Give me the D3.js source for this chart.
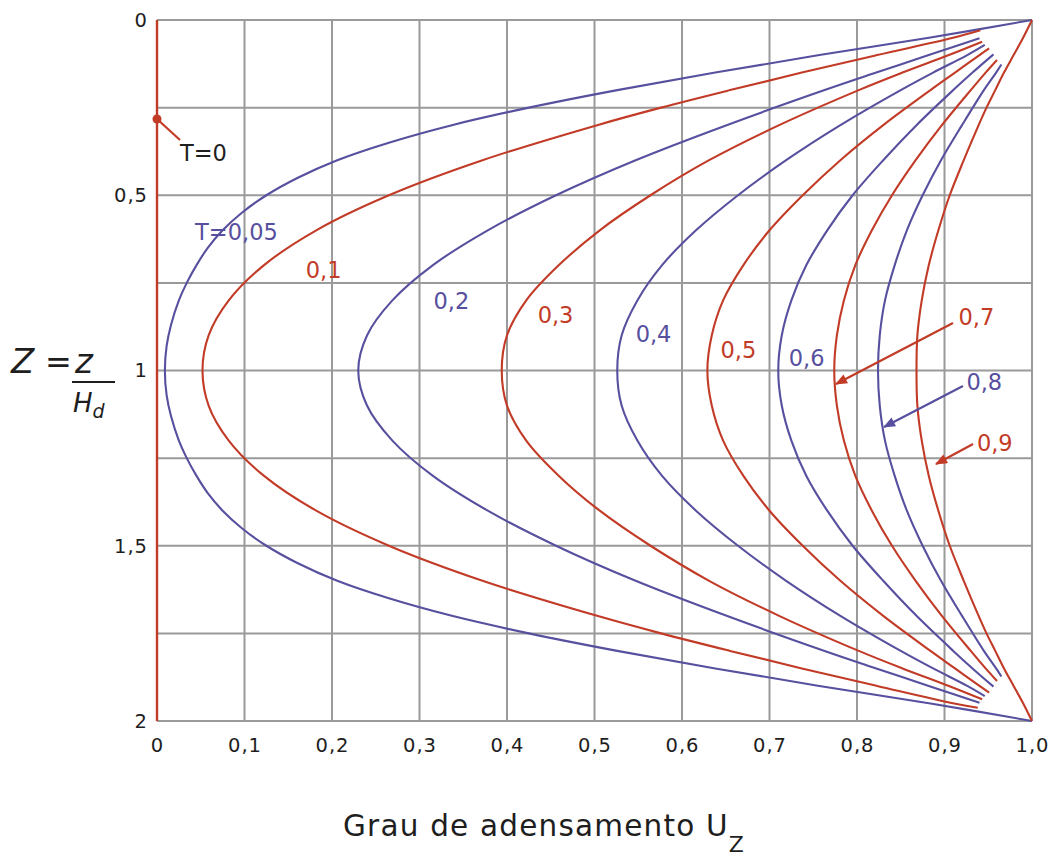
<!DOCTYPE html>
<html>
<head>
<meta charset="utf-8">
<script src="https://cdn.jsdelivr.net/npm/d3@7"></script>
<style>
  html, body { margin: 0; padding: 0; background: #ffffff; }
  svg { display: block; font-family: "DejaVu Sans", Verdana, sans-serif; }
</style>
</head>
<body>
<svg id="chart" width="1053" height="860"></svg>
<script>
// ---- Data (U_z, Z), top (Z=0) to bottom (Z=2) ----
const xTicks = [0, 0.1, 0.2, 0.3, 0.4, 0.5, 0.6, 0.7, 0.8, 0.9, 1.0];
const xTickLabels = ["0", "0,1", "0,2", "0,3", "0,4", "0,5", "0,6", "0,7", "0,8", "0,9", "1,0"];
const yTicks = [0, 0.5, 1, 1.5, 2];
const yTickLabels = ["0", "0,5", "1", "1,5", "2"];
const yGrid = [0, 0.25, 0.5, 0.75, 1, 1.25, 1.5, 1.75, 2];

const isoT0 = [[0, 0], [0, 2]];
const isoT005 = [[1.0,0],[0.884,0.05],[0.757,0.1],[0.638,0.15],[0.526,0.2],[0.425,0.25],[0.337,0.3],[0.265,0.35],[0.206,0.4],[0.161,0.45],[0.125,0.5],[0.097,0.55],[0.075,0.6],[0.058,0.65],[0.045,0.7],[0.034,0.75],[0.025,0.8],[0.016,0.87],[0.011,0.93],[0.009,1.0],
  [0.011,1.07],[0.016,1.13],[0.025,1.2],[0.034,1.25],[0.045,1.3],[0.058,1.35],[0.075,1.4],[0.097,1.45],[0.125,1.5],[0.161,1.55],[0.206,1.6],[0.265,1.65],[0.337,1.7],[0.425,1.75],[0.526,1.8],[0.638,1.85],[0.757,1.9],[0.884,1.95],[1.0,2.0]];
const isoT01 = [[0.941,0.029],[0.911,0.05],[0.823,0.1],[0.737,0.15],[0.655,0.2],[0.576,0.25],[0.503,0.3],[0.372,0.4],[0.265,0.5],[0.182,0.6],[0.122,0.7],[0.082,0.8],[0.059,0.9],[0.052,1.0],
  [0.059,1.1],[0.082,1.2],[0.122,1.3],[0.182,1.4],[0.265,1.5],[0.372,1.6],[0.503,1.7],[0.576,1.75],[0.655,1.8],[0.737,1.85],[0.823,1.9],[0.911,1.95],[0.938,1.962]];
const isoT02 = [[0.940,0.052],[0.882,0.1],[0.822,0.15],[0.763,0.2],[0.651,0.3],[0.547,0.4],[0.456,0.5],[0.378,0.6],[0.315,0.7],[0.269,0.8],[0.240,0.9],[0.230,1.0],
  [0.240,1.1],[0.269,1.2],[0.315,1.3],[0.378,1.4],[0.456,1.5],[0.547,1.6],[0.651,1.7],[0.763,1.8],[0.822,1.85],[0.882,1.9],[0.940,1.948]];
const isoT03 = [[0.943,0.062],[0.905,0.1],[0.852,0.15],[0.802,0.2],[0.711,0.3],[0.631,0.4],[0.564,0.5],[0.506,0.6],[0.459,0.7],[0.422,0.8],[0.400,0.9],[0.394,1.0],
  [0.400,1.1],[0.422,1.2],[0.459,1.3],[0.506,1.4],[0.564,1.5],[0.631,1.6],[0.711,1.7],[0.802,1.8],[0.852,1.85],[0.905,1.9],[0.943,1.938]];
const isoT04 = [[0.946,0.071],[0.926,0.1],[0.887,0.15],[0.850,0.2],[0.781,0.3],[0.719,0.4],[0.664,0.5],[0.616,0.6],[0.577,0.7],[0.549,0.8],[0.531,0.9],[0.526,1.0],
  [0.531,1.1],[0.549,1.2],[0.577,1.3],[0.616,1.4],[0.664,1.5],[0.719,1.6],[0.781,1.7],[0.850,1.8],[0.887,1.85],[0.926,1.9],[0.946,1.929]];
const isoT05 = [[0.951,0.081],[0.940,0.1],[0.912,0.15],[0.884,0.2],[0.830,0.3],[0.781,0.4],[0.738,0.5],[0.700,0.6],[0.670,0.7],[0.647,0.8],[0.634,0.9],[0.629,1.0],
  [0.634,1.1],[0.647,1.2],[0.670,1.3],[0.700,1.4],[0.738,1.5],[0.781,1.6],[0.830,1.7],[0.884,1.8],[0.912,1.85],[0.940,1.9],[0.951,1.919]];
const isoT06 = [[0.956,0.098],[0.932,0.15],[0.910,0.2],[0.868,0.3],[0.830,0.4],[0.795,0.5],[0.766,0.6],[0.742,0.7],[0.725,0.8],[0.714,0.9],[0.710,1.0],
  [0.714,1.1],[0.725,1.2],[0.742,1.3],[0.766,1.4],[0.795,1.5],[0.830,1.6],[0.868,1.7],[0.910,1.8],[0.932,1.85],[0.956,1.902]];
const isoT07 = [[0.960,0.114],[0.947,0.15],[0.930,0.2],[0.897,0.3],[0.867,0.4],[0.840,0.5],[0.817,0.6],[0.798,0.7],[0.785,0.8],[0.777,0.9],[0.774,1.0],
  [0.777,1.1],[0.785,1.2],[0.798,1.3],[0.817,1.4],[0.840,1.5],[0.867,1.6],[0.897,1.7],[0.930,1.8],[0.947,1.85],[0.960,1.886]];
const isoT08 = [[0.965,0.127],[0.959,0.15],[0.945,0.2],[0.920,0.3],[0.896,0.4],[0.875,0.5],[0.857,0.6],[0.843,0.7],[0.832,0.8],[0.826,0.9],[0.824,1.0],
  [0.826,1.1],[0.832,1.2],[0.843,1.3],[0.857,1.4],[0.875,1.5],[0.896,1.6],[0.920,1.7],[0.945,1.8],[0.959,1.85],[0.965,1.873]];
const isoT09 = [[1.0,0],[0.990,0.05],[0.979,0.1],[0.968,0.15],[0.958,0.2],[0.948,0.25],[0.939,0.3],[0.922,0.4],[0.906,0.5],[0.893,0.6],[0.882,0.7],[0.874,0.8],[0.869,0.9],[0.868,1.0],
  [0.869,1.1],[0.874,1.2],[0.882,1.3],[0.893,1.4],[0.906,1.5],[0.922,1.6],[0.939,1.7],[0.948,1.75],[0.958,1.8],[0.968,1.85],[0.979,1.9],[0.990,1.95],[1.0,2.0]];

const seriesNames = ["0", "0,05", "0,1", "0,2", "0,3", "0,4", "0,5", "0,6", "0,7", "0,8", "0,9"];
const seriesData = [isoT0, isoT005, isoT01, isoT02, isoT03, isoT04, isoT05, isoT06, isoT07, isoT08, isoT09];
const seriesColor = ["red", "blue", "red", "blue", "red", "blue", "red", "blue", "red", "blue", "red"];

// label anchors in data units (U, Z)
const labelText = ["T=0", "T=0,05", "0,1", "0,2", "0,3", "0,4", "0,5", "0,6", "0,7", "0,8", "0,9"];
const labelPos = [[0.0263,0.402],[0.0435,0.628],[0.170,0.736],[0.316,0.8245],[0.435,0.8645],[0.547,0.9187],[0.644,0.9643],[0.722,0.9872],[0.916,0.8702],[0.925,1.0556],[0.937,1.2297]];
const labelColor = ["black", "blue", "red", "blue", "red", "blue", "red", "blue", "red", "blue", "red"];
// leader lines [from, to] in data units
const leaderT0 = [[0.0263,0.3424],[0, 0.2825]];
const leaders = [
  {from:[0.9097,0.8645], to:[0.776,1.0385], color:"red"},
  {from:[0.9211,1.0442], to:[0.8309,1.1612], color:"blue"},
  {from:[0.9326,1.2097], to:[0.8903,1.2668], color:"red"}
];

// ---- Drawing ----
const COLORS = { red: "#c23b27", blue: "#57509e", black: "#1e1e1e" };
const svg = d3.select("#chart");
svg.append("rect").attr("width", 1053).attr("height", 860).attr("fill", "#fff");

const x = d3.scaleLinear().domain([0, 1]).range([157, 1032]);
const y = d3.scaleLinear().domain([0, 2]).range([20, 721]);

const gridColor = "#9a9a9a";
const grid = svg.append("g");
grid.selectAll("line.v").data(xTicks).join("line")
  .attr("x1", d => x(d)).attr("x2", d => x(d))
  .attr("y1", y(0)).attr("y2", y(2))
  .attr("stroke", gridColor).attr("stroke-width", 2);
grid.selectAll("line.h").data(yGrid).join("line")
  .attr("x1", x(0)).attr("x2", x(1))
  .attr("y1", d => y(d)).attr("y2", d => y(d))
  .attr("stroke", gridColor).attr("stroke-width", 2);

// axes (labels only)
const xAxis = d3.axisBottom(x).tickValues(xTicks)
  .tickFormat((d, i) => xTickLabels[i]).tickSize(0).tickPadding(17);
const gx = svg.append("g").attr("transform", `translate(0,${y(2)})`).call(xAxis);
gx.select(".domain").remove();
gx.selectAll("text").attr("font-size", 19.5).attr("fill", "#1e1e1e")
  .attr("font-family", "DejaVu Sans, sans-serif").attr("letter-spacing", 1);

const yAxis = d3.axisLeft(y).tickValues(yTicks)
  .tickFormat((d, i) => yTickLabels[i]).tickSize(0).tickPadding(9);
const gy = svg.append("g").attr("transform", `translate(${x(0)},0)`).call(yAxis);
gy.select(".domain").remove();
gy.selectAll("text").attr("font-size", 19.5).attr("fill", "#1e1e1e")
  .attr("font-family", "DejaVu Sans, sans-serif").attr("letter-spacing", 1);

// curves
const line = d3.line().x(d => x(d[0])).y(d => y(d[1])).curve(d3.curveCatmullRom.alpha(0.5));
const curves = svg.append("g").attr("fill", "none").attr("stroke-width", 2.1);
seriesData.forEach((s, i) => {
  if (i === 0) return;
  curves.append("path").datum(s).attr("d", line).attr("stroke", COLORS[seriesColor[i]]);
});
// T = 0 isochrone (vertical at U = 0)
svg.append("path").datum(isoT0).attr("d", d3.line().x(d => x(d[0])).y(d => y(d[1])))
  .attr("fill", "none").attr("stroke", COLORS.red).attr("stroke-width", 2.4);

// T=0 leader & dot
svg.append("line")
  .attr("x1", x(leaderT0[0][0])).attr("y1", y(leaderT0[0][1]))
  .attr("x2", x(leaderT0[1][0])).attr("y2", y(leaderT0[1][1]))
  .attr("stroke", COLORS.red).attr("stroke-width", 2.2);
svg.append("circle").attr("cx", x(leaderT0[1][0])).attr("cy", y(leaderT0[1][1]))
  .attr("r", 4.5).attr("fill", COLORS.red);

// arrow markers
const defs = svg.append("defs");
["red", "blue"].forEach(c => {
  defs.append("marker").attr("id", "arr-" + c)
    .attr("viewBox", "0 0 12 10").attr("refX", 11).attr("refY", 5)
    .attr("markerWidth", 13).attr("markerHeight", 10)
    .attr("markerUnits", "userSpaceOnUse").attr("orient", "auto")
    .append("path").attr("d", "M0,0 L12,5 L0,10 Z").attr("fill", COLORS[c]);
});
leaders.forEach(l => {
  svg.append("line")
    .attr("x1", x(l.from[0])).attr("y1", y(l.from[1]))
    .attr("x2", x(l.to[0])).attr("y2", y(l.to[1]))
    .attr("stroke", COLORS[l.color]).attr("stroke-width", 2.2)
    .attr("marker-end", `url(#arr-${l.color})`);
});

// curve labels
svg.append("g").selectAll("text").data(labelText).join("text")
  .attr("x", (d, i) => x(labelPos[i][0]))
  .attr("y", (d, i) => y(labelPos[i][1]))
  .attr("font-size", 22.5)
  .attr("fill", (d, i) => COLORS[labelColor[i]])
  .text(d => d);

// x axis title
const title = svg.append("text").attr("x", 343).attr("y", 836)
  .attr("font-size", 29.5).attr("fill", "#1e1e1e").attr("letter-spacing", 1.2);
title.append("tspan").text("Grau de adensamento U");
title.append("tspan").attr("dy", 16).attr("font-size", 22).attr("letter-spacing", 0).text("Z");

// y axis title: Z = z / H_d
const yt = svg.append("g").attr("fill", "#1e1e1e");
yt.append("text").attr("x", 11).attr("y", 373).attr("font-size", 34).attr("font-style", "italic").text("Z");
yt.append("text").attr("x", 45).attr("y", 373).attr("font-size", 32).text("=");
yt.append("text").attr("x", 75).attr("y", 373).attr("font-size", 34).attr("font-style", "italic").text("z");
yt.append("line").attr("x1", 72).attr("x2", 115).attr("y1", 382).attr("y2", 382)
  .attr("stroke", "#1e1e1e").attr("stroke-width", 2);
const hd = yt.append("text").attr("x", 73).attr("y", 412).attr("font-size", 26).attr("font-style", "italic");
hd.append("tspan").text("H");
hd.append("tspan").attr("dy", 6).attr("font-size", 19).text("d");
</script>
</body>
</html>
